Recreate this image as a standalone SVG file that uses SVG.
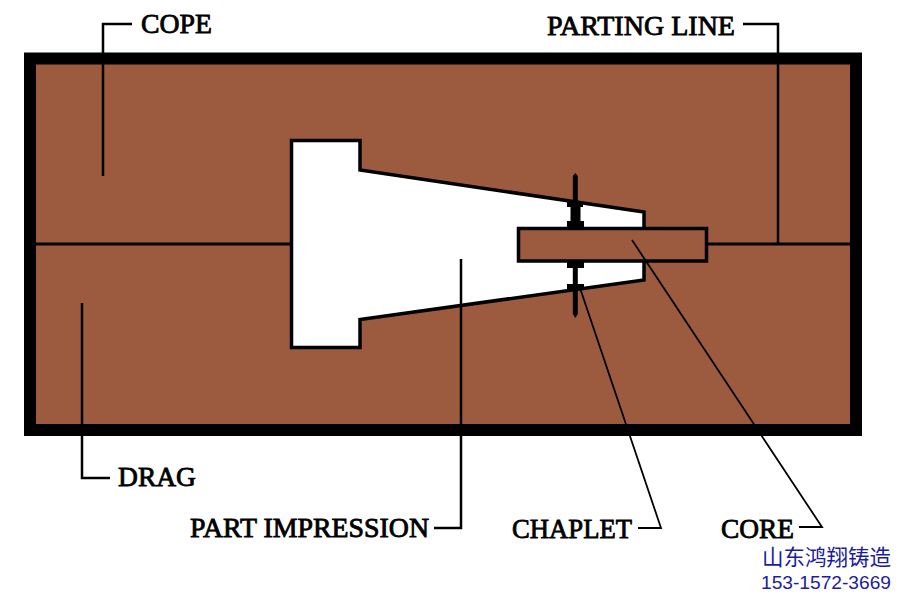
<svg xmlns="http://www.w3.org/2000/svg" width="900" height="600" viewBox="0 0 900 600">
<style>
.lab{font-family:"Liberation Serif",serif;font-size:27px;fill:#000;stroke:#000;stroke-width:.8px}
.ln{fill:none;stroke:#000;stroke-width:2.500}
.thin{fill:none;stroke:#000;stroke-width:1.800}
.wm{fill:#1c1ca0}
</style>
<rect width="900" height="600" fill="#fff"/>
<g id="mold">
<rect x="30" y="58.500" width="826" height="371.500" fill="#9c5b3f" stroke="#000" stroke-width="12"/>
</g>
<g id="part-impression">
<path d="M291.500 140.500H360V170L644 212V280L360 319.500V347.500H291.500Z" fill="#fff" stroke="#000" stroke-width="3.500"/>
</g>
<g id="parting-line">
<path d="M36 244H291M707 244H851" fill="none" stroke="#000" stroke-width="3"/>
</g>
<g id="chaplet">
<path d="M572.800 176L575.300 173L577.800 176V314L575.300 318L572.800 314Z" fill="#000"/>
<rect x="570.500" y="202" width="10" height="64"/>
<rect x="567" y="202" width="16" height="5"/>
<rect x="567" y="221" width="17" height="8"/>
<rect x="567" y="261" width="17" height="7"/>
<rect x="567" y="284" width="17" height="6"/>
</g>
<g id="core">
<rect x="518.500" y="228.500" width="188" height="32.500" fill="#9c5b3f" stroke="#000" stroke-width="3.500"/>
</g>
<g id="connectors">
<path class="ln" d="M132 24H103V176"/>
<path class="ln" d="M743 24H778V244"/>
<path class="ln" d="M110 478H82V303"/>
<path class="ln" d="M434 528H461V259"/>
<path class="thin" d="M638 528H661L580 288"/>
<path class="thin" d="M799 527H822L632 240"/>
</g>
<g id="label-cope"><text class="lab" x="141" y="33" textLength="71" lengthAdjust="spacingAndGlyphs">COPE</text></g>
<g id="label-parting-line"><text class="lab" x="547" y="35" textLength="188" lengthAdjust="spacingAndGlyphs">PARTING LINE</text></g>
<g id="label-drag"><text class="lab" x="118" y="486" textLength="78" lengthAdjust="spacingAndGlyphs">DRAG</text></g>
<g id="label-part-impression"><text class="lab" x="190" y="537" textLength="239" lengthAdjust="spacingAndGlyphs">PART IMPRESSION</text></g>
<g id="label-chaplet"><text class="lab" x="512" y="538" textLength="120" lengthAdjust="spacingAndGlyphs">CHAPLET</text></g>
<g id="label-core"><text class="lab" x="721" y="538" textLength="73" lengthAdjust="spacingAndGlyphs">CORE</text></g>
<g id="watermark">
<text class="wm" x="762" y="565" font-size="21.500" font-family="'Noto Sans CJK SC',sans-serif">山东鸿翔铸造</text>
<text class="wm" x="761" y="589" font-size="18" font-family="'Liberation Sans',sans-serif" textLength="130" lengthAdjust="spacingAndGlyphs">153-1572-3669</text>
</g>
</svg>
